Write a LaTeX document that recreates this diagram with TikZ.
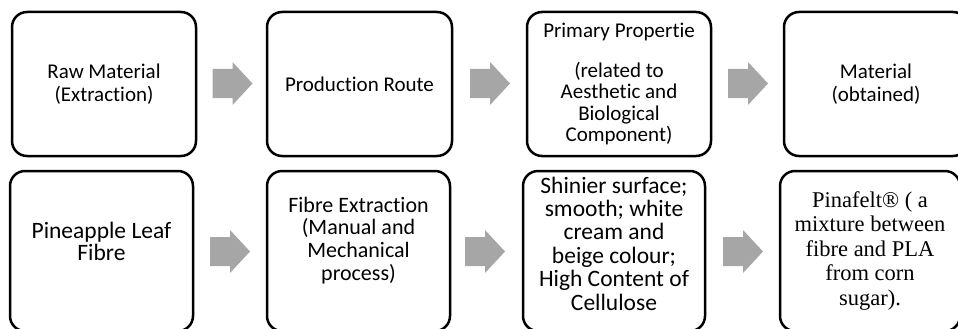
\documentclass[tikz,border=0pt]{standalone}
\usepackage{fontspec}
\setmainfont{Carlito}[Ligatures=NoCommon]
\newfontfamily\timesfont{Liberation Serif}
\begin{document}
\begin{tikzpicture}[x=1pt,y=-1pt,
  box/.style={draw=black, line width=2.5pt, rounded corners=15pt, fill=white,
    align=center, inner sep=2pt, font=\fontsize{21}{23}\selectfont},
  blockarrow/.pic={\fill[arrowgray] (-20,-14.5) -- (0,-14.5) -- (0,-21.5) -- (20,0)
     -- (0,21.5) -- (0,14.5) -- (-20,14.5) -- cycle;}
]
\definecolor{arrowgray}{HTML}{A6A6A6}
\useasboundingbox (0,0) rectangle (958,329);
\clip (0,0) rectangle (958,329);
% top row
\node[box, minimum width=184pt, minimum height=144pt] (b1) at (104,84) {Raw Material\\(Extraction)};
\node[box, minimum width=185pt, minimum height=144pt] (b2) at (359.5,84) {Production Route};
\node[box, minimum width=184pt, minimum height=144pt, font=\fontsize{21}{21.5}\selectfont] (b3) at (619,84)
  {Primary Propertie\\[18pt](related to\\Aesthetic and\\Biological\\Component)};
\node[box, minimum width=184pt, minimum height=144pt] (b4) at (876,84) {Material\\(obtained)};
% bottom row
\node[box, minimum width=183pt, minimum height=160pt, font=\fontsize{23.5}{22.5}\selectfont] (c1) at (101.5,251)
  {Pineapple Leaf\\Fibre\rule[-19pt]{0pt}{0pt}};
\node[box, minimum width=183pt, minimum height=160pt, font=\fontsize{22}{22.7}\selectfont] (c2) at (358.5,251)
  {Fibre Extraction\\(Manual and\\Mechanical\\process)\rule[-25pt]{0pt}{0pt}};
\node[box, minimum width=182pt, minimum height=160pt, font=\fontsize{23.5}{23.4}\selectfont] (c3) at (614,251)
  {Shinier surface;\\smooth; white\\cream and\\beige colour;\\High Content of\\Cellulose\rule[-15pt]{0pt}{0pt}};
\node[box, minimum width=180pt, minimum height=160pt, font=\timesfont\fontsize{22.5}{24.5}\selectfont] (c4) at (870,251)
  {Pinafelt® ( a\\mixture between\\fibre and PLA\\from corn\\sugar).};
% arrows
\pic at (232.5,83.5) {blockarrow};
\pic at (490,83.5) {blockarrow};
\pic at (748,83.5) {blockarrow};
\pic at (230,251.5) {blockarrow};
\pic at (485,251.5) {blockarrow};
\pic at (743,251.5) {blockarrow};
\end{tikzpicture}
\end{document}
